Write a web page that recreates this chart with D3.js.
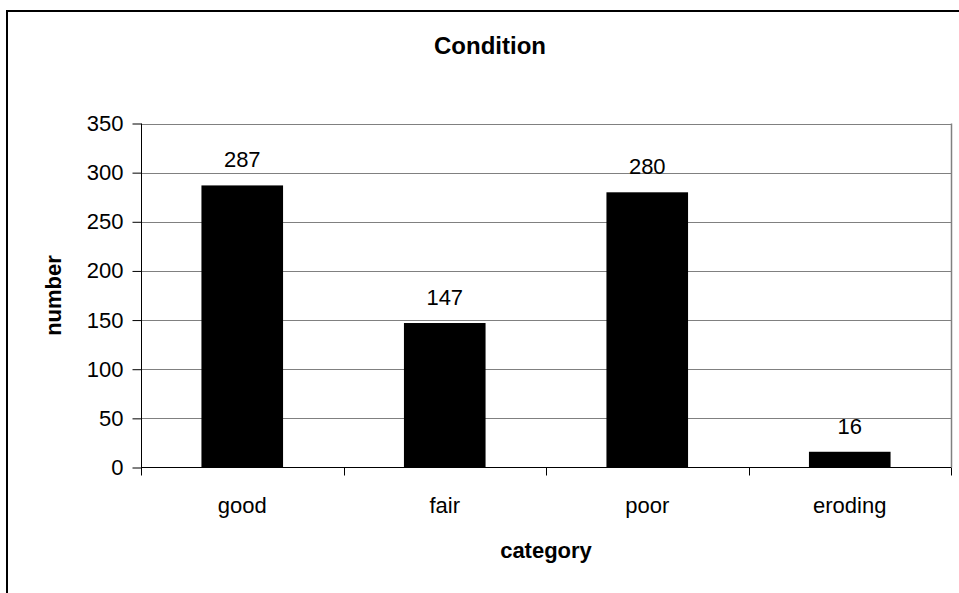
<!DOCTYPE html>
<html>
<head>
<meta charset="utf-8">
<script src="https://cdn.jsdelivr.net/npm/d3@7"></script>
<style>
  html, body { margin: 0; padding: 0; background: #fff; }
  svg { display: block; font-family: "Liberation Sans", Arial, sans-serif; }
</style>
</head>
<body>
<div id="chart"></div>
<script>
const categories = ["good", "fair", "poor", "eroding"];
const values = [287, 147, 280, 16];
const yTicks = [0, 50, 100, 150, 200, 250, 300, 350];
const titleText = "Condition";
const xTitle = "category";
const yTitle = "number";

const W = 959, H = 593;
const plot = { left: 141, right: 951, top: 123.5, bottom: 467.5 };

const svg = d3.select("#chart").append("svg")
  .attr("width", W).attr("height", H);

svg.append("rect").attr("width", W).attr("height", H).attr("fill", "#fff");

// outer chart border (extends beyond view)
svg.append("rect")
  .attr("x", 7).attr("y", 11)
  .attr("width", 980).attr("height", 600)
  .attr("fill", "none").attr("stroke", "#000").attr("stroke-width", 2);

const x = d3.scaleBand().domain(categories).range([plot.left, plot.right]).padding(0);
const y = d3.scaleLinear().domain([0, 350]).range([plot.bottom, plot.top]);

// gridlines
svg.append("g").selectAll("line").data(yTicks.filter(d => d > 0)).join("line")
  .attr("x1", plot.left).attr("x2", plot.right)
  .attr("y1", d => Math.round(y(d)) + 0.5).attr("y2", d => Math.round(y(d)) + 0.5)
  .attr("stroke", "#808080").attr("stroke-width", 1.2);

// right plot border
svg.append("line")
  .attr("x1", plot.right + 0.5).attr("x2", plot.right + 0.5)
  .attr("y1", plot.top).attr("y2", plot.bottom)
  .attr("stroke", "#808080").attr("stroke-width", 1.5);

// bars
const barW = x.bandwidth() * 0.403;
svg.append("g").selectAll("rect").data(values).join("rect")
  .attr("x", (d, i) => x(categories[i]) + x.bandwidth() / 2 - barW / 2)
  .attr("width", barW)
  .attr("y", d => y(d))
  .attr("height", d => y(0) - y(d))
  .attr("fill", "#000");

// data labels
svg.append("g").selectAll("text").data(values).join("text")
  .attr("x", (d, i) => x(categories[i]) + x.bandwidth() / 2)
  .attr("y", d => y(d) - 18)
  .attr("text-anchor", "middle")
  .attr("font-size", 22)
  .attr("fill", "#000")
  .text(d => d);

// y axis
const yAxis = d3.axisLeft(y).tickValues(yTicks).tickSize(9).tickPadding(9).tickFormat(d3.format("d"));
const gy = svg.append("g").attr("transform", `translate(${plot.left + 0.5},0)`).call(yAxis);
gy.select(".domain").attr("stroke", "#000").attr("d", `M-9,${plot.top}H0V${plot.bottom}`);
gy.select(".domain").attr("d", `M0,${plot.top}V${plot.bottom}`);
gy.selectAll(".tick line").attr("stroke", "#000");
gy.selectAll(".tick text").attr("font-size", 22).attr("fill", "#000")
  .attr("font-family", "Liberation Sans, Arial, sans-serif");

// x axis
const xAxis = d3.axisBottom(x).tickSize(0).tickPadding(30);
const gx = svg.append("g").attr("transform", `translate(0,${plot.bottom})`).call(xAxis);
gx.select(".domain").attr("stroke", "#000").attr("d", `M${plot.left},0H${plot.right}`);
gx.selectAll(".tick text").attr("font-size", 22).attr("fill", "#000")
  .attr("font-family", "Liberation Sans, Arial, sans-serif");
// category boundary ticks
const bounds = categories.map(c => x(c)).concat([plot.right]);
gx.append("g").selectAll("line").data(bounds).join("line")
  .attr("x1", d => Math.round(d) + 0.5).attr("x2", d => Math.round(d) + 0.5)
  .attr("y1", 0).attr("y2", 8)
  .attr("stroke", "#000");

// title
svg.append("text")
  .attr("x", 490).attr("y", 54)
  .attr("text-anchor", "middle")
  .attr("font-size", 24).attr("font-weight", "bold")
  .text(titleText);

// x title
svg.append("text")
  .attr("x", (plot.left + plot.right) / 2).attr("y", 558)
  .attr("text-anchor", "middle")
  .attr("font-size", 22).attr("font-weight", "bold")
  .text(xTitle);

// y title
svg.append("text")
  .attr("transform", `translate(61,${(plot.top + plot.bottom) / 2}) rotate(-90)`)
  .attr("text-anchor", "middle")
  .attr("font-size", 22).attr("font-weight", "bold")
  .text(yTitle);
</script>
</body>
</html>
